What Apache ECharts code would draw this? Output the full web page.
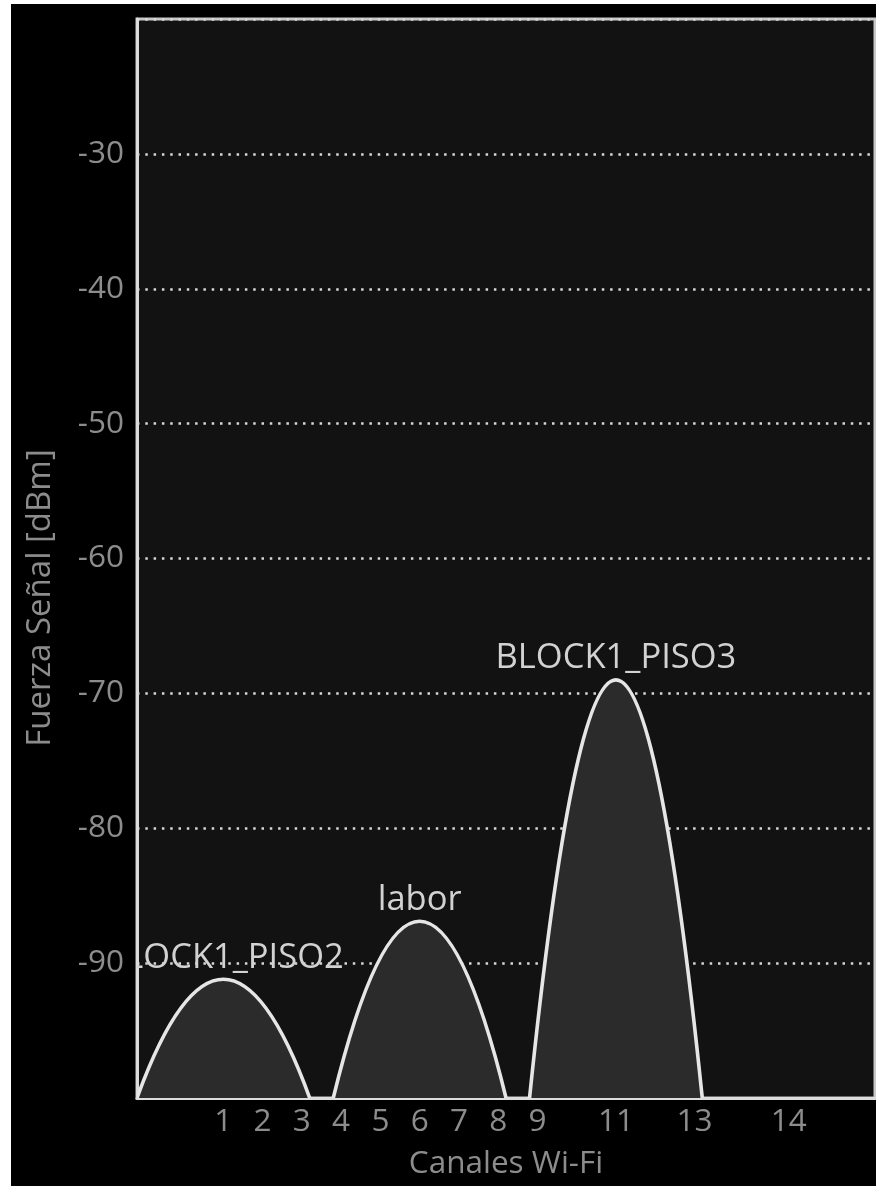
<!DOCTYPE html>
<html>
<head>
<meta charset="utf-8">
<script src="https://cdn.jsdelivr.net/npm/echarts@6/dist/echarts.min.js"></script>
<style>
  html, body { margin: 0; padding: 0; background: #ffffff; width: 876px; height: 1186px; overflow: hidden; }
  #chart { position: absolute; left: 11px; top: 4px; width: 865px; height: 1182px; }
</style>
</head>
<body>
<div id="chart"></div>
<script>
// Channel tick labels and their centre frequencies (MHz)
const channelNames = ['1', '2', '3', '4', '5', '6', '7', '8', '9', '11', '13', '14'];
const channelFreqs = [2412, 2417, 2422, 2427, 2432, 2437, 2442, 2447, 2452, 2462, 2472, 2484];

// Networks
const ssids = ['BLOCK1_PISO2', 'labor', 'BLOCK1_PISO3'];
const netFreqs = [2412, 2437, 2462];
const netLevels = [-91.2, -86.9, -69.0];
const netWidths = [22, 22, 22];

// Axis ranges
const freqMin = 2401, freqMax = 2495;
const dbmMin = -100, dbmMax = -20, dbmStep = 10;

const fontFamily = "'Open Sans', 'Noto Sans', sans-serif";
const chart = echarts.init(document.getElementById('chart'), null, { renderer: 'canvas' });

const netData = ssids.map((s, i) => [netFreqs[i], netLevels[i], netWidths[i], s]);

chart.setOption({
  backgroundColor: '#000000',
  animation: false,
  grid: {
    left: 126, right: 1, top: 15, bottom: 88,
    show: true, backgroundColor: '#121212',
    borderColor: '#c8c8c8', borderWidth: 3
  },
  xAxis: {
    type: 'value', min: freqMin, max: freqMax,
    name: 'Canales Wi-Fi', nameLocation: 'middle', nameGap: 50,
    nameTextStyle: { color: '#8c8c8c', fontSize: 31.5, fontFamily: fontFamily },
    axisLine: { show: true, onZero: false, lineStyle: { color: '#dcdcdc', width: 3 } },
    axisTick: { show: false },
    splitLine: { show: false },
    axisLabel: {
      customValues: channelFreqs,
      color: '#8c8c8c', fontSize: 31.5, fontFamily: fontFamily, margin: 8,
      formatter: v => {
        const i = channelFreqs.indexOf(v);
        return i >= 0 ? channelNames[i] : '';
      }
    }
  },
  yAxis: {
    type: 'value', min: dbmMin, max: dbmMax, interval: dbmStep,
    axisLine: { show: true, lineStyle: { color: '#dcdcdc', width: 3 } },
    axisTick: { show: false },
    splitLine: { show: true, lineStyle: { color: '#d8d8d8', width: 2.5, type: [2.5, 5.8] } },
    axisLabel: {
      color: '#8c8c8c', fontSize: 31.5, fontFamily: fontFamily, margin: 13,
      formatter: v => (v === dbmMin || v === dbmMax) ? '' : String(v)
    }
  },
  graphic: [{
    type: 'text', rotation: Math.PI / 2,
    x: 30, y: 594,
    style: { text: 'Fuerza Señal [dBm]', fill: '#8c8c8c', fontSize: 33, fontFamily: fontFamily,
             align: 'center', verticalAlign: 'middle' }
  }],
  series: [{
    type: 'custom',
    clip: true,
    data: netData,
    renderItem: (params, api) => {
      const f = api.value(0), lvl = api.value(1), w = api.value(2);
      const name = netData[params.dataIndex][3];
      const pL = api.coord([f - w / 2, dbmMin]);
      const pR = api.coord([f + w / 2, dbmMin]);
      // quadratic control point so that the curve apex reaches the level
      const pC = api.coord([f, 2 * lvl - dbmMin]);
      const pTop = api.coord([f, lvl]);
      return {
        type: 'group',
        children: [{
          type: 'bezierCurve',
          shape: { x1: pL[0], y1: pL[1], x2: pR[0], y2: pR[1], cpx1: pC[0], cpy1: pC[1] },
          style: { fill: '#2b2b2b', stroke: '#e6e6e6', lineWidth: 3.6 }
        }, {
          type: 'text',
          x: pTop[0], y: pTop[1] - 4,
          style: { text: name, fill: '#d2d2d2', fontSize: 34.5, fontFamily: fontFamily,
                   align: 'center', verticalAlign: 'bottom' }
        }]
      };
    }
  }]
});
</script>
</body>
</html>
